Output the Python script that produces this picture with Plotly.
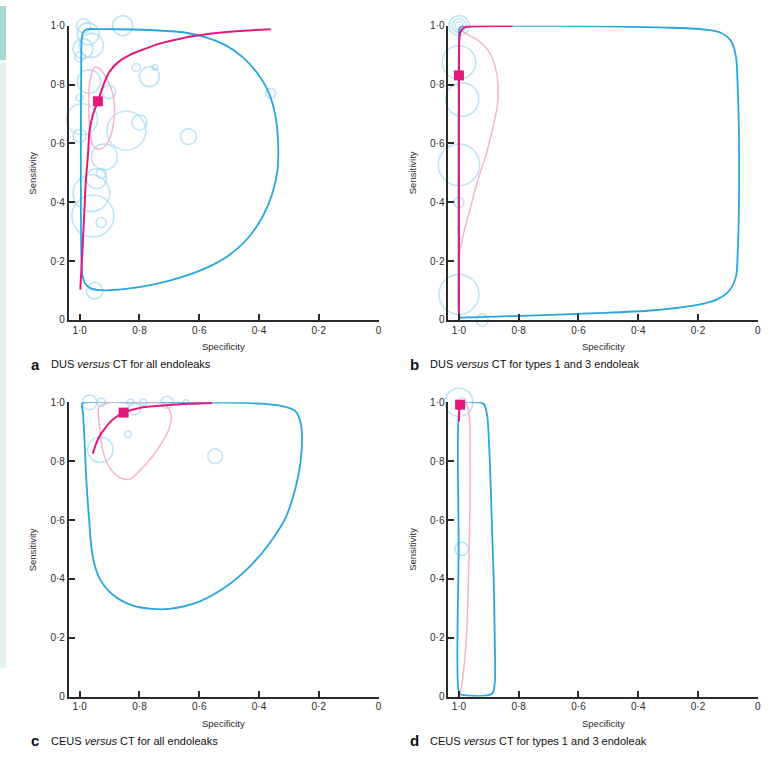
import plotly.graph_objects as go

W, H = 780, 758

# ---------------- Panel a: DUS versus CT for all endoleaks ----------------
a_study_spec = [0.987, 0.856, 0.972, 0.961, 0.989, 1.000, 0.811, 0.748, 0.767, 0.969,
                0.902, 1.000, 0.992, 0.844, 0.800, 0.636, 1.000, 0.917, 0.944, 0.928,
                0.961, 0.956, 0.928, 0.950, 0.361]
a_study_sens = [1.000, 1.000, 0.972, 0.933, 0.922, 0.894, 0.858, 0.858, 0.827, 0.810,
                0.775, 0.755, 0.682, 0.643, 0.671, 0.623, 0.626, 0.554, 0.480, 0.498,
                0.431, 0.353, 0.331, 0.099, 0.770]
a_study_weight = [7, 10, 11, 12, 10, 5, 4, 2.7, 10, 11.7,
                  6.7, 3.5, 15.5, 19.5, 7.5, 8, 6.5, 13, 10, 5,
                  18.3, 21, 5, 8.3, 5]
a_summary_spec = [0.939]
a_summary_sens = [0.743]
a_sroc_spec = [0.998, 0.991, 0.983, 0.980, 0.972, 0.967, 0.955, 0.939, 0.920, 0.900,
               0.870, 0.833, 0.780, 0.733, 0.680, 0.622, 0.533, 0.450, 0.361]
a_sroc_sens = [0.103, 0.231, 0.398, 0.465, 0.565, 0.643, 0.700, 0.743, 0.800, 0.844,
               0.877, 0.900, 0.922, 0.939, 0.952, 0.964, 0.976, 0.983, 0.988]
a_conf_spec = [0.950, 0.933, 0.917, 0.900, 0.887, 0.883, 0.887, 0.900, 0.922, 0.939,
               0.956, 0.964, 0.969, 0.970, 0.967, 0.960, 0.950]
a_conf_sens = [0.859, 0.853, 0.833, 0.799, 0.760, 0.721, 0.666, 0.615, 0.585, 0.580,
               0.593, 0.632, 0.688, 0.743, 0.799, 0.838, 0.859]
a_pred_spec = [0.994, 0.996, 0.996, 0.995, 0.993, 0.988, 0.978, 0.933, 0.822, 0.711,
               0.644, 0.578, 0.511, 0.456, 0.406, 0.367, 0.344, 0.336, 0.338, 0.356,
               0.389, 0.439, 0.500, 0.578, 0.667, 0.756, 0.833, 0.900, 0.939, 0.967,
               0.983, 0.991, 0.994]
a_pred_sens = [0.198, 0.399, 0.621, 0.844, 0.955, 0.978, 0.987, 0.988, 0.987, 0.982,
               0.976, 0.960, 0.933, 0.894, 0.839, 0.772, 0.688, 0.599, 0.510, 0.427,
               0.349, 0.276, 0.220, 0.176, 0.143, 0.120, 0.107, 0.101, 0.102, 0.109,
               0.126, 0.154, 0.198]

# ---------------- Panel b: DUS versus CT for types 1 and 3 endoleak ----------------
b_study_spec = [0.999, 0.999, 0.999, 1.000, 0.989, 1.000, 1.000, 1.000, 0.922]
b_study_sens = [1.000, 1.000, 1.000, 0.875, 0.749, 0.527, 0.399, 0.087, 0.000]
b_study_weight = [10, 7, 4, 16.7, 16.7, 20.7, 5, 20, 6]
b_summary_spec = [1.000]
b_summary_sens = [0.831]
b_sroc_spec = [1.000, 1.000, 0.9995, 0.998, 0.993, 0.980, 0.947, 0.820]
b_sroc_sens = [0.000, 0.500, 0.900, 0.960, 0.983, 0.994, 0.998, 0.999]
# visible part of the confidence region (the rest lies under the SROC line)
b_conf_spec = [0.990, 0.969, 0.936, 0.902, 0.880, 0.869, 0.871, 0.886, 0.908, 0.936,
               0.963, 0.986, 0.999]
b_conf_sens = [0.982, 0.969, 0.950, 0.916, 0.866, 0.800, 0.733, 0.655, 0.566, 0.477,
               0.376, 0.287, 0.225]
b_pred_spec = [0.999, 1.001, 1.001, 1.000, 0.998, 0.986, 0.902, 0.680, 0.458, 0.291,
               0.180, 0.124, 0.091, 0.074, 0.067, 0.063, 0.063, 0.067, 0.074, 0.097,
               0.136, 0.202, 0.347, 0.569, 0.791, 0.958, 0.997, 0.999]
b_pred_sens = [0.011, 0.176, 0.621, 0.955, 0.991, 0.999, 1.000, 0.999, 0.997, 0.993,
               0.987, 0.976, 0.950, 0.900, 0.788, 0.621, 0.399, 0.232, 0.143, 0.098,
               0.070, 0.051, 0.033, 0.022, 0.014, 0.009, 0.009, 0.011]

# ---------------- Panel c: CEUS versus CT for all endoleaks ----------------
c_study_spec = [0.967, 0.928, 0.830, 0.787, 0.708, 0.644, 0.817, 0.839, 0.931, 0.547]
c_study_sens = [1.000, 1.000, 1.000, 1.000, 1.000, 1.000, 0.978, 0.892, 0.839, 0.817]
c_study_weight = [7.3, 4, 3.3, 3.3, 6, 2.7, 6, 3.3, 12.7, 7.3]
c_summary_spec = [0.853]
c_summary_sens = [0.965]
c_sroc_spec = [0.956, 0.945, 0.933, 0.915, 0.900, 0.878, 0.853, 0.800, 0.711, 0.633, 0.556]
c_sroc_sens = [0.825, 0.860, 0.886, 0.912, 0.931, 0.950, 0.965, 0.981, 0.990, 0.995, 0.998]
c_conf_spec = [0.936, 0.900, 0.800, 0.733, 0.706, 0.694, 0.700, 0.722, 0.756, 0.800,
               0.833, 0.867, 0.900, 0.922, 0.933, 0.938, 0.936]
c_conf_sens = [0.984, 0.999, 1.000, 0.999, 0.984, 0.956, 0.912, 0.867, 0.817, 0.767,
               0.739, 0.745, 0.778, 0.834, 0.912, 0.968, 0.984]
c_pred_spec = [0.991, 0.978, 0.822, 0.600, 0.400, 0.322, 0.278, 0.261, 0.256, 0.261,
               0.278, 0.311, 0.367, 0.433, 0.511, 0.600, 0.700, 0.756, 0.822, 0.889,
               0.933, 0.956, 0.969, 0.978, 0.984, 0.989, 0.991]
c_pred_sens = [0.996, 1.000, 1.000, 1.000, 0.996, 0.987, 0.970, 0.931, 0.886, 0.797,
               0.708, 0.608, 0.518, 0.440, 0.373, 0.323, 0.298, 0.298, 0.309, 0.346,
               0.401, 0.474, 0.608, 0.741, 0.875, 0.964, 0.996]

# ---------------- Panel d: CEUS versus CT for types 1 and 3 endoleak ----------------
d_study_spec = [1.000, 0.990, 0.980, 0.975, 0.991]
d_study_sens = [1.000, 1.000, 1.005, 1.008, 0.502]
d_study_weight = [14, 4.5, 4, 3, 6.7]
d_summary_spec = [0.996]
d_summary_sens = [0.992]
d_sroc_spec = [1.000, 0.999, 0.997]
d_sroc_sens = [0.936, 0.965, 0.992]
# visible part of the confidence region (the rest lies under the prediction line)
d_conf_spec = [0.990, 0.975, 0.966, 0.963, 0.964, 0.968, 0.975, 0.985, 0.995, 0.999]
d_conf_sens = [0.998, 0.993, 0.960, 0.800, 0.600, 0.400, 0.200, 0.080, 0.020, 0.008]
d_pred_spec = [1.000, 1.001, 1.000, 0.991, 0.947, 0.919, 0.907, 0.899, 0.891, 0.884,
               0.880, 0.880, 0.888, 0.913, 0.969, 0.996, 1.000]
d_pred_sens = [0.011, 0.518, 0.964, 0.998, 1.000, 0.996, 0.964, 0.853, 0.630, 0.407,
               0.184, 0.050, 0.011, 0.003, 0.003, 0.008, 0.011]

tick_vals = [1.0, 0.8, 0.6, 0.4, 0.2, 0.0]
tick_text = ["1·0", "0·8", "0·6", "0·4", "0·2", "0"]

captions = [
    ("a", "DUS <i>versus</i> CT for all endoleaks"),
    ("b", "DUS <i>versus</i> CT for types 1 and 3 endoleak"),
    ("c", "CEUS <i>versus</i> CT for all endoleaks"),
    ("d", "CEUS <i>versus</i> CT for types 1 and 3 endoleak"),
]

BUBBLE = "#a6dbf2"
PRED = "#2aa6df"
CONF = "#f5b4cd"
SROC = "#e3197c"
AXIS = "#2a2a2a"
FONT = "Liberation Sans, Arial, sans-serif"

panels = [
    dict(study=(a_study_spec, a_study_sens, a_study_weight), summ=(a_summary_spec, a_summary_sens),
         sroc=(a_sroc_spec, a_sroc_sens), conf=(a_conf_spec, a_conf_sens), pred=(a_pred_spec, a_pred_sens)),
    dict(study=(b_study_spec, b_study_sens, b_study_weight), summ=(b_summary_spec, b_summary_sens),
         sroc=(b_sroc_spec, b_sroc_sens), conf=(b_conf_spec, b_conf_sens), pred=(b_pred_spec, b_pred_sens)),
    dict(study=(c_study_spec, c_study_sens, c_study_weight), summ=(c_summary_spec, c_summary_sens),
         sroc=(c_sroc_spec, c_sroc_sens), conf=(c_conf_spec, c_conf_sens), pred=(c_pred_spec, c_pred_sens)),
    dict(study=(d_study_spec, d_study_sens, d_study_weight), summ=(d_summary_spec, d_summary_sens),
         sroc=(d_sroc_spec, d_sroc_sens), conf=(d_conf_spec, d_conf_sens), pred=(d_pred_spec, d_pred_sens)),
]

# pixel layout of each panel: (x of y-axis line, x of spec=1, x of spec=0, y of sens=1, y of sens=0)
geom = [
    (69, 80, 380, 20, 319),
    (450, 460.7, 760.7, 20, 319),
    (69, 80, 380, 402.7, 701.7),
    (450, 460.7, 760.7, 402.7, 701.7),
]

fig = go.Figure()
layout = dict(width=W, height=H, margin=dict(l=0, r=0, t=0, b=0),
              paper_bgcolor="white", plot_bgcolor="white", showlegend=False,
              font=dict(family=FONT, color=AXIS))
annotations = []
shapes = []

for i, (p, g) in enumerate(zip(panels, geom)):
    n = "" if i == 0 else str(i + 1)
    xa, ya = "x" + n, "y" + n
    x_line, x1, x0, ytop, ybot = g
    unit = (x0 - x1)
    xmax = 1 + (x1 - x_line) / unit
    layout["xaxis" + n] = dict(
        domain=[x_line / W, x0 / W], range=[xmax, 0], anchor=ya,
        showline=True, linecolor=AXIS, linewidth=1.6, ticks="inside", ticklen=6,
        tickwidth=1.6, tickcolor=AXIS, tickvals=tick_vals, ticktext=tick_text,
        tickfont=dict(size=10, family=FONT, color=AXIS), showgrid=False, zeroline=False)
    layout["yaxis" + n] = dict(
        domain=[1 - ybot / H, 1 - ytop / H], range=[0, 1.0], anchor=xa,
        showline=True, linecolor=AXIS, linewidth=1.6, ticks="inside", ticklen=6,
        tickwidth=1.6, tickcolor=AXIS, tickvals=tick_vals, ticktext=tick_text,
        tickfont=dict(size=10, family=FONT, color=AXIS), showgrid=False, zeroline=False)

    sx, sy, sw = p["study"]
    fig.add_trace(go.Scatter(
        x=sx, y=sy, mode="markers", xaxis=xa, yaxis=ya, cliponaxis=False,
        marker=dict(size=[2 * w for w in sw], color="rgba(0,0,0,0)",
                    line=dict(color=BUBBLE, width=1.6))))
    fig.add_trace(go.Scatter(
        x=p["pred"][0], y=p["pred"][1], mode="lines", xaxis=xa, yaxis=ya,
        line=dict(color=PRED, width=1.8, shape="spline", smoothing=1.0)))
    fig.add_trace(go.Scatter(
        x=p["conf"][0], y=p["conf"][1], mode="lines", xaxis=xa, yaxis=ya,
        line=dict(color=CONF, width=1.5, shape="spline", smoothing=1.0)))
    fig.add_trace(go.Scatter(
        x=p["sroc"][0], y=p["sroc"][1], mode="lines", xaxis=xa, yaxis=ya,
        line=dict(color=SROC, width=2, shape="spline", smoothing=1.0)))
    fig.add_trace(go.Scatter(
        x=p["summ"][0], y=p["summ"][1], mode="markers", xaxis=xa, yaxis=ya, cliponaxis=False,
        marker=dict(symbol="square", size=10, color=SROC, line=dict(width=0))))

    cx = (x_line + x0) / 2
    annotations.append(dict(text="Specificity", x=cx / W, y=1 - (ybot + 27) / H,
                            xref="paper", yref="paper", showarrow=False,
                            xanchor="center", yanchor="middle",
                            font=dict(size=9.5, family=FONT, color=AXIS)))
    annotations.append(dict(text="Sensitivity", x=(x_line - 36) / W, y=1 - ((ytop + ybot) / 2) / H,
                            xref="paper", yref="paper", showarrow=False, textangle=-90,
                            xanchor="center", yanchor="middle",
                            font=dict(size=9.5, family=FONT, color=AXIS)))
    letter, cap = captions[i]
    annotations.append(dict(text="<b>" + letter + "</b>", x=(x_line - 40) / W, y=1 - (ybot + 45) / H,
                            xref="paper", yref="paper", showarrow=False,
                            xanchor="left", yanchor="middle",
                            font=dict(size=15, family=FONT, color="#111111")))
    annotations.append(dict(text=cap, x=(x_line - 20) / W, y=1 - (ybot + 45) / H,
                            xref="paper", yref="paper", showarrow=False,
                            xanchor="left", yanchor="middle",
                            font=dict(size=11, family=FONT, color="#111111")))

# decorative side band
shapes.append(dict(type="rect", xref="paper", yref="paper", x0=0, x1=6 / W,
                   y0=1 - 55 / H, y1=1, fillcolor="#a9d9d4", line=dict(width=0), layer="below"))
shapes.append(dict(type="rect", xref="paper", yref="paper", x0=0, x1=6 / W,
                   y0=1 - 673 / H, y1=1 - 58 / H, fillcolor="#e1f2ef", line=dict(width=0), layer="below"))

layout["annotations"] = annotations
layout["shapes"] = shapes
fig.update_layout(**layout)
fig.write_html("out.html", config={"displayModeBar": False},
               post_script="document.body.style.margin='0px';document.body.style.overflow='hidden';")
